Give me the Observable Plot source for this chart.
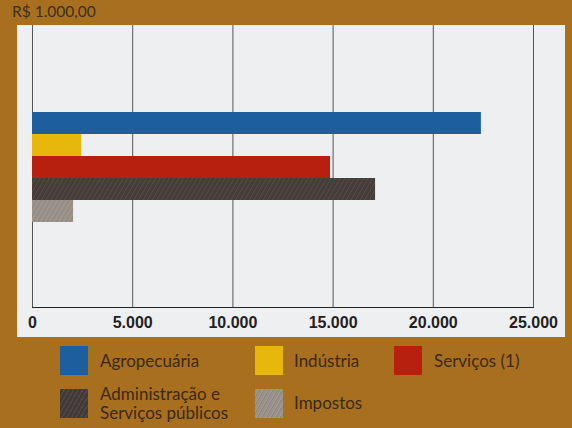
<!DOCTYPE html>
<html>
<head>
<meta charset="utf-8">
<script src="https://cdn.jsdelivr.net/npm/d3@7"></script>
<script src="https://cdn.jsdelivr.net/npm/@observablehq/plot@0.6"></script>
<style>
  html, body { margin: 0; padding: 0; }
  body { width: 572px; height: 428px; overflow: hidden; background: #a86f1f; position: relative; font-family: Lato, "Open Sans", sans-serif; }
  #title { position: absolute; left: 12px; top: 2px; font-size: 15.5px; color: #3d3020; }
  #chart { position: absolute; left: 17px; top: 25px; }
  .sw { position: absolute; width: 28px; height: 29px; }
  .lb { position: absolute; font-size: 17px; color: #3a2a12; line-height: 19px; white-space: nowrap; }
</style>
</head>
<body>
<div id="title">R$ 1.000,00</div>
<div id="chart"></div>
<div id="legend"></div>
<script>
const categories = ["Agropecuária", "Indústria", "Serviços (1)", "Administração e Serviços públicos", "Impostos"];
const values = [22400, 2450, 14870, 17120, 2050];
const xTicks = [0, 5000, 10000, 15000, 20000, 25000];
const legendLabels = ["Agropecuária", "Indústria", "Serviços (1)", "Administração e<br>Serviços públicos", "Impostos"];

const fills = ["#1d5e9e", "#e7b70c", "#b7200f", "url(#hatchDark)", "url(#hatchGray)"];
const cssFills = [
  "#1d5e9e", "#e7b70c", "#b7200f",
  "repeating-linear-gradient(-60deg, #413839 0 2px, #4f4d3b 2px 3px, #483b45 3px 4px)",
  "repeating-linear-gradient(-60deg, #9a918c 0 2px, #918d74 2px 3px, #a098a2 3px 4px)"
];

const data = categories.map((c, i) => ({category: c, value: values[i]}));
const loc = d3.formatLocale({decimal: ",", thousands: ".", grouping: [3], currency: ["R$ ", ""]});
const fmt = loc.format(",d");

const chart = Plot.plot({
  width: 548,
  height: 312,
  marginLeft: 15,
  marginRight: 32,
  marginTop: 0,
  marginBottom: 30,
  style: {background: "#eeeff0", fontFamily: "'Liberation Sans', Arial, sans-serif", color: "#222"},
  x: {domain: [0, 25000], ticks: xTicks, tickFormat: fmt, tickSize: 0, tickPadding: 9, label: null, line: true},
  y: {domain: categories, range: [86, 198], padding: 0, axis: null},
  color: {domain: categories, range: fills},
  marks: [
    Plot.ruleX(xTicks, {stroke: "#555", strokeWidth: 1}),
    Plot.barX(data, {x: "value", y: "category", fill: "category", insetTop: 0, insetBottom: 0})
  ]
});

// hatch patterns
const ns = "http://www.w3.org/2000/svg";
const defs = document.createElementNS(ns, "defs");
defs.innerHTML = `
  <pattern id="hatchDark" patternUnits="userSpaceOnUse" width="4" height="4" patternTransform="rotate(30)">
    <rect width="4" height="4" fill="#423839"/>
    <rect x="0" width="1.2" height="4" fill="#514f3b"/>
    <rect x="2.2" width="0.8" height="4" fill="#4a3c48"/>
  </pattern>
  <pattern id="hatchGray" patternUnits="userSpaceOnUse" width="4" height="4" patternTransform="rotate(30)">
    <rect width="4" height="4" fill="#9b918c"/>
    <rect x="0" width="1.2" height="4" fill="#928e74"/>
    <rect x="2.2" width="0.8" height="4" fill="#a199a4"/>
  </pattern>`;
chart.insertBefore(defs, chart.firstChild);
chart.querySelectorAll("[aria-label='x-axis tick label'] text, g[aria-label='x-axis tick label']").forEach(el => {
  el.setAttribute("font-weight", "bold");
  el.setAttribute("font-size", "16");
});
chart.querySelectorAll("[aria-label='x-axis line'] line, [aria-label='x-axis line'] path, [aria-label='x-axis line']").forEach(el => {
  el.setAttribute("stroke", "#3c3a62");
});
document.getElementById("chart").appendChild(chart);

// legend
const legend = document.getElementById("legend");
const swPos = [[60, 346], [255, 346], [394, 346], [60, 389], [255, 389]];
const lbPos = [[100, 351], [294, 351], [434, 351], [100, 384], [294, 393]];
categories.forEach((c, i) => {
  const s = document.createElement("div");
  s.className = "sw";
  s.style.left = swPos[i][0] + "px";
  s.style.top = swPos[i][1] + "px";
  s.style.background = cssFills[i];
  legend.appendChild(s);
  const l = document.createElement("div");
  l.className = "lb";
  l.style.left = lbPos[i][0] + "px";
  l.style.top = lbPos[i][1] + "px";
  l.innerHTML = legendLabels[i];
  legend.appendChild(l);
});
</script>
</body>
</html>
